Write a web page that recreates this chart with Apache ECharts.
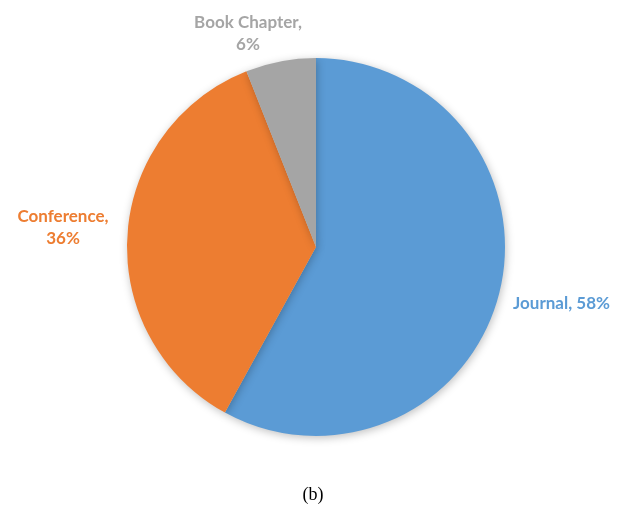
<!DOCTYPE html>
<html>
<head>
<meta charset="utf-8">
<script src="https://cdn.jsdelivr.net/npm/echarts@6/dist/echarts.min.js"></script>
<style>html,body{margin:0;padding:0;background:#fff}#c{width:626px;height:520px}</style>
</head>
<body>
<div id="c"></div>
<script>
const categories = ['Journal', 'Conference', 'Book Chapter'];
const values = [58, 36, 6];
const colors = ['#5B9BD5', '#ED7D31', '#A5A5A5'];
const caption = '(b)';

const labelSpots = [
  {x: 513, y: 304, align: 'left'},
  {x: 63, y: 228, align: 'center'},
  {x: 248, y: 34, align: 'center'}
];

const chart = echarts.init(document.getElementById('c'), null, {renderer: 'canvas'});
chart.setOption({
  animation: false,
  backgroundColor: '#fff',
  graphic: [{
    type: 'text', left: 'center', top: 486,
    style: {text: caption, font: '18px "Liberation Serif", "Times New Roman", serif', fill: '#000'}
  }],
  series: [{
    type: 'pie',
    center: [316, 247],
    radius: [0, 189],
    startAngle: 90,
    clockwise: true,
    data: categories.map((c, i) => ({
      name: c, value: values[i],
      itemStyle: {color: colors[i]},
      label: {color: colors[i]}
    })),
    itemStyle: {
      borderWidth: 0,
      shadowBlur: 8,
      shadowColor: 'rgba(0,0,0,0.25)',
      shadowOffsetX: 1,
      shadowOffsetY: 2
    },
    label: {
      show: true,
      position: 'outside',
      fontFamily: 'Lato, "Open Sans", sans-serif',
      fontWeight: 'bold',
      fontSize: 17,
      lineHeight: 22,
      overflow: 'none',
      width: 200,
      formatter: p => p.dataIndex === 0 ? p.name + ', ' + p.value + '%' : p.name + ',\n' + p.value + '%'
    },
    labelLine: {show: false},
    labelLayout: p => {
      const s = labelSpots[p.dataIndex];
      return {x: s.x, y: s.y, align: s.align, verticalAlign: 'middle'};
    },
    emphasis: {disabled: true}
  }]
});
</script>
</body>
</html>
